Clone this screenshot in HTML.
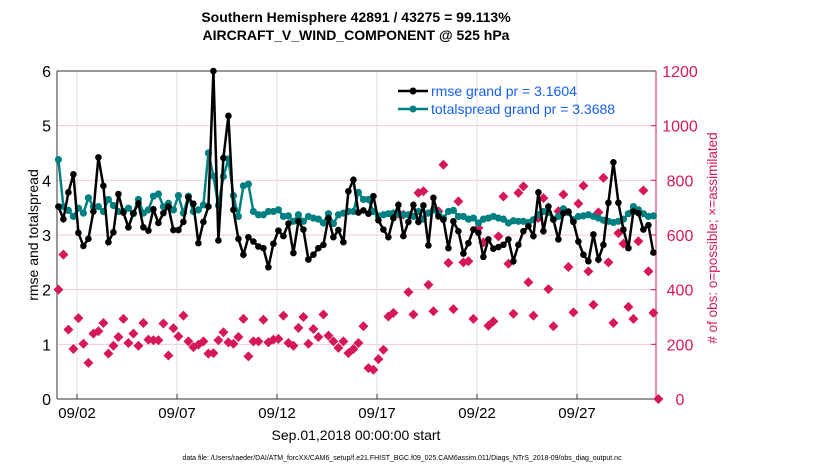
<!DOCTYPE html>
<html><head><meta charset="utf-8"><style>
html,body{margin:0;padding:0;background:#fff}
svg{display:block;font-family:"Liberation Sans",Arial,sans-serif}
</style></head><body>
<svg id="chart" width="830" height="470" viewBox="0 0 830 470">
<g id="grid"></g>
<g id="axes"></g>
<g id="obs"></g>
<g id="spread"></g>
<g id="rmse"></g>
<text x="356" y="22" text-anchor="middle" font-size="14" font-weight="bold">Southern Hemisphere 42891 / 43275 = 99.113%</text>
<text x="356" y="40" text-anchor="middle" font-size="14" font-weight="bold">AIRCRAFT_V_WIND_COMPONENT @ 525 hPa</text>
<text transform="translate(38,235) rotate(-90)" text-anchor="middle" font-size="14">rmse and totalspread</text>
<text transform="translate(717,238) rotate(-90)" text-anchor="middle" font-size="13.5" fill="#d6185a"># of obs: o=possible; ×=assimilated</text>
<text x="356" y="440" text-anchor="middle" font-size="14">Sep.01,2018 00:00:00 start</text>
<text x="402" y="460" text-anchor="middle" font-size="7">data file: /Users/raeder/DAI/ATM_forcXX/CAM6_setup/f.e21.FHIST_BGC.f09_025.CAM6assim.011/Diags_NTrS_2018-09/obs_diag_output.nc</text>
<g>
<g>
<line x1="398" y1="91" x2="428" y2="91" stroke="#000" stroke-width="2.5"/><circle cx="413" cy="91" r="3.5" fill="#000"/>
<text x="431" y="96" font-size="14" fill="#1560f0">rmse grand pr = 3.1604</text></g>
<g>
<line x1="398" y1="109" x2="428" y2="109" stroke="#008080" stroke-width="2.5"/><circle cx="413" cy="109" r="3.5" fill="#008080"/>
<text x="431" y="114" font-size="14" fill="#1560f0">totalspread grand pr = 3.3688</text></g>
</g>
</svg>
<script>
const rmseVals=[3.52,3.29,3.78,4.11,3.04,2.80,2.93,3.43,4.42,3.90,2.87,3.05,3.75,3.41,3.14,3.40,3.58,3.14,3.08,3.47,3.22,3.40,3.52,3.09,3.09,3.24,3.69,3.57,2.85,3.24,3.52,6.0,2.90,4.41,5.18,3.46,2.93,2.64,2.96,2.88,2.79,
2.76,2.41,2.84,3.08,2.98,3.21,2.67,3.25,3.10,2.55,2.64,2.76,2.82,3.31,2.96,3.09,2.87,3.80,4.01,3.41,3.45,3.39,3.71,3.27,3.10,2.96,3.31,3.55,2.98,3.24,3.55,3.24,3.54,2.81,3.68,3.34,3.28,2.76,3.25,3.07,
2.66,2.85,3.10,3.04,2.60,2.92,2.75,2.78,2.82,2.92,2.52,2.82,3.07,3.16,2.98,3.78,3.07,3.52,3.28,2.92,3.40,3.43,3.24,2.88,2.64,2.52,3.01,2.55,2.82,3.59,4.33,3.59,3.10,2.76,3.43,3.40,3.10,3.18,2.68];
const spreadVals=[4.38,3.52,3.45,3.34,3.49,3.40,3.68,3.52,3.52,3.43,3.65,3.54,3.43,3.43,3.49,3.39,3.65,3.40,3.46,3.71,3.75,3.52,3.58,3.46,3.72,3.40,3.71,3.43,3.46,3.55,4.50,4.08,3.54,4.07,4.39,3.72,3.34,3.90,3.93,3.43,3.37,
3.37,3.43,3.43,3.46,3.34,3.35,3.25,3.37,3.25,3.34,3.31,3.29,3.22,3.39,3.21,3.37,3.40,3.43,3.43,3.78,3.65,3.65,3.43,3.35,3.37,3.39,3.40,3.39,3.37,3.37,3.34,3.43,3.29,3.40,3.46,3.39,3.31,3.43,3.45,3.34,
3.34,3.29,3.31,3.22,3.29,3.31,3.34,3.31,3.29,3.22,3.26,3.25,3.25,3.23,3.28,3.37,3.43,3.41,3.29,3.34,3.48,3.41,3.28,3.34,3.35,3.37,3.34,3.31,3.27,3.25,3.23,3.25,3.29,3.39,3.52,3.46,3.39,3.34,3.35];
const obsVals=[400,528,254,183,296,202,132,239,248,278,166,195,227,293,205,239,195,278,217,215,215,276,159,259,229,305,211,190,199,211,166,168,215,244,207,202,227,293,156,211,211,
290,207,217,220,305,205,195,260,300,202,256,227,309,232,211,187,211,168,183,205,266,113,107,146,180,302,315,678,674,391,309,754,760,418,321,687,857,498,329,723,
500,504,293,626,573,268,284,595,741,495,312,754,778,427,305,662,735,402,266,687,748,483,317,715,780,467,345,683,809,500,278,607,568,337,293,577,763,467,315,0];
const xTickLabels=["09/02","09/07","09/12","09/17","09/22","09/27"];
const xTickDays=[1,6,11,16,21,26];
const yTicksLeft=[0,1,2,3,4,5,6];
const yTicksRight=[0,200,400,600,800,1000,1200];

const L=57,R=656,T=71,B=399,D0=0,D1=29.95;
const xS=d=>L+(d-D0)/(D1-D0)*(R-L);
const yL=v=>B-v/6*(B-T);
const yR=v=>B-v/1200*(B-T);
const tAt=i=>0.07+0.25*i;
const NS="http://www.w3.org/2000/svg";
function mk(tag,attrs,parent){const e=document.createElementNS(NS,tag);for(const k in attrs)e.setAttribute(k,attrs[k]);parent.appendChild(e);return e;}
const grid=document.getElementById('grid'),axes=document.getElementById('axes');
yTicksLeft.forEach((v,i)=>{
  if(v>0&&v<6){const g=mk('line',{x1:L,x2:R,y1:yL(v),y2:yL(v),stroke:'#f3c9d6','stroke-width':1},grid);
  
  }
  const t=mk('text',{x:L-6,y:yL(v)+6,'text-anchor':'end','font-size':16},axes);t.textContent=v;
  
  
});
yTicksRight.forEach(v=>{
  mk('line',{x1:R,x2:R-5,y1:yR(v),y2:yR(v),stroke:'#d6185a'},axes);
  const t=mk('text',{x:680,y:yR(v)+6,'text-anchor':'middle','font-size':16,fill:'#d6185a'},axes);t.textContent=v;
  
  
});
xTickDays.forEach((d,i)=>{
  const g=mk('line',{x1:xS(d),x2:xS(d),y1:T,y2:B,stroke:'#dcdcdc'},grid);
  
  
  mk('line',{x1:xS(d),x2:xS(d),y1:B,y2:B-5,stroke:'#333'},axes);
  const t=mk('text',{x:xS(d),y:B+19,'text-anchor':'middle','font-size':15},axes);t.textContent=xTickLabels[i];
  
  
});
mk('line',{x1:L,x2:R,y1:T,y2:T,stroke:'#333'},axes);
mk('line',{x1:L,x2:R,y1:B,y2:B,stroke:'#333'},axes);
mk('line',{x1:L,x2:L,y1:T,y2:B,stroke:'#333'},axes);
mk('line',{x1:R,x2:R,y1:T,y2:B,stroke:'#d6185a'},axes);

function series(vals,gid,color,r){
  const g=document.getElementById(gid);
  const pts=vals.map((v,i)=>xS(tAt(i)).toFixed(1)+','+yL(v).toFixed(1)).join(' ');
  const pl=mk('polyline',{points:pts,fill:'none',stroke:color,'stroke-width':2.5},g);
  
  
  vals.forEach((v,i)=>{const c=mk('circle',{cx:xS(tAt(i)),cy:yL(v),r:r,fill:color},g);
  
  });
}
series(spreadVals,'spread','#008080',3.6);
series(rmseVals,'rmse','#000',3.3);
const og=document.getElementById('obs');
obsVals.forEach((v,i)=>{
  const x=xS(tAt(i)),y=yR(v);
  const p=mk('path',{d:`M${x},${y-5}L${x+5},${y}L${x},${y+5}L${x-5},${y}Z`,fill:'#d6185a'},og);
  
  
});
</script>
</body></html>
